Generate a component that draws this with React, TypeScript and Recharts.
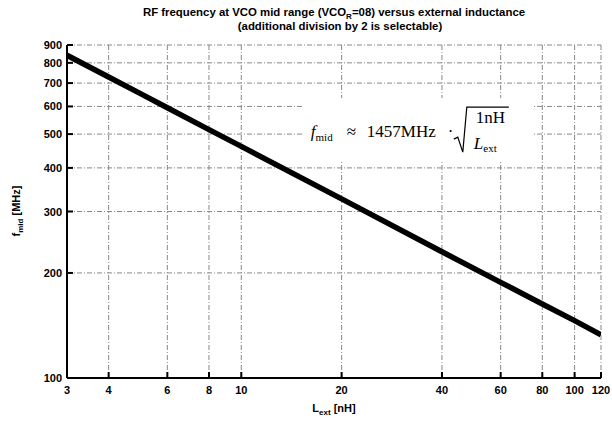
import React from 'react';
import {
  LineChart, Line, XAxis, YAxis, CartesianGrid, ReferenceArea,
} from 'recharts';

// readings taken off the reference plot
const inductances = [3, 4, 5, 6, 8, 10, 20, 40, 60, 80, 100, 120];
const fMid = [841, 729, 652, 595, 515, 461, 326, 230, 188, 163, 146, 133];

const xTicks = [3, 4, 6, 8, 10, 20, 40, 60, 80, 100, 120];
const yTicks = [100, 200, 300, 400, 500, 600, 700, 800, 900];

// box behind the formula, in data units
const boxL = [15.4, 75.5];
const boxF = [416, 634];

const W = 612;
const H = 421;
const SANS = '"Liberation Sans", Arial, sans-serif';
const SERIF = '"Liberation Serif", "DejaVu Serif", serif';

const data = inductances.map((L, i) => ({ L, f: fMid[i] }));

const label = { fontFamily: SANS, fontSize: 11, fontWeight: 700, fill: '#000' };

function BottomTick({ x, y, payload }: any) {
  return (
    <g>
      <line x1={x} x2={x} y1={y} y2={y - 6} stroke="#000" strokeWidth={2} />
      <text x={x} y={y + 16} textAnchor="middle" style={label}>{payload.value}</text>
    </g>
  );
}

function TopTick({ x, y }: any) {
  return <line x1={x} x2={x} y1={y} y2={y + 6} stroke="#000" strokeWidth={2} />;
}

function LeftTick({ x, y, payload }: any) {
  return (
    <g>
      <line x1={x} x2={x + 6} y1={y} y2={y} stroke="#000" strokeWidth={2} />
      <text x={x - 5} y={y + 4} textAnchor="end" style={label}>{payload.value}</text>
    </g>
  );
}

function RightTick({ x, y }: any) {
  return <line x1={x} x2={x - 6} y1={y} y2={y} stroke="#000" strokeWidth={2} />;
}

function FormulaBox({ x, y, width, height }: any) {
  const bx = x + 7;
  const by = y + 39;
  return (
    <g>
      <rect x={x} y={y} width={width} height={height} fill="#fff" />
      <text x={bx} y={by} style={{ fontFamily: SERIF, fontSize: 17 }}>
        <tspan fontStyle="italic">f</tspan>
        <tspan fontSize={11} dy={4}>mid</tspan>
      </text>
      <text x={bx + 36} y={by} style={{ fontFamily: SERIF, fontSize: 17 }}>≈</text>
      <text x={bx + 56} y={by} style={{ fontFamily: SERIF, fontSize: 17 }}>1457MHz</text>
      <text x={bx + 137} y={by} style={{ fontFamily: SERIF, fontSize: 17 }}>·</text>
      <path
        d={`M ${bx + 143} ${by + 2} L ${bx + 147} ${by} L ${bx + 152} ${by + 15} L ${bx + 156} ${by - 30} L ${bx + 198} ${by - 30}`}
        fill="none" stroke="#000" strokeWidth={1.2}
      />
      <text x={bx + 165} y={by - 14} style={{ fontFamily: SERIF, fontSize: 17 }}>1nH</text>
      <text x={bx + 163} y={by + 12} style={{ fontFamily: SERIF, fontSize: 17 }}>
        <tspan fontStyle="italic">L</tspan>
        <tspan fontSize={11} dy={3}>ext</tspan>
      </text>
    </g>
  );
}

export default function App() {
  return (
    <div style={{ position: 'absolute', left: 0, top: 0, width: W, height: H, background: '#fff' }}>
      <LineChart width={W} height={H} data={data} margin={{ top: 45, right: 11, bottom: 0, left: 0 }}>
        <CartesianGrid stroke="#888" strokeDasharray="5 2 1 2" strokeWidth={1} />
        <XAxis
          dataKey="L" type="number" scale="log" domain={[3, 120]} ticks={xTicks}
          allowDataOverflow height={43} tickSize={0} tickMargin={0} interval={0}
          axisLine={{ stroke: '#000', strokeWidth: 2 }} tick={<BottomTick />}
        />
        <XAxis
          xAxisId="top" orientation="top" dataKey="L" type="number" scale="log" domain={[3, 120]}
          ticks={xTicks} allowDataOverflow height={0} tickSize={0} tickMargin={0} interval={0}
          axisLine={{ stroke: '#000', strokeWidth: 2 }} tick={<TopTick />}
        />
        <YAxis
          type="number" scale="log" domain={[100, 900]} ticks={yTicks} allowDataOverflow
          width={67} tickSize={0} tickMargin={0} interval={0}
          axisLine={{ stroke: '#000', strokeWidth: 2 }} tick={<LeftTick />}
        />
        <YAxis
          yAxisId="right" orientation="right" type="number" scale="log" domain={[100, 900]}
          ticks={yTicks} allowDataOverflow width={0} tickSize={0} tickMargin={0} interval={0}
          axisLine={{ stroke: '#000', strokeWidth: 2 }} tick={<RightTick />}
        />
        <ReferenceArea
          x1={boxL[0]} x2={boxL[1]} y1={boxF[0]} y2={boxF[1]}
          fill="#fff" fillOpacity={1} stroke="none" shape={<FormulaBox />}
        />
        <Line
          dataKey="f" type="linear" stroke="#000" strokeWidth={5.5} dot={false}
          isAnimationActive={false}
        />
      </LineChart>
      <svg width={W} height={H} style={{ position: 'absolute', left: 0, top: 0, pointerEvents: 'none' }}>
        <text x={334} y={16} textAnchor="middle" style={{ ...label, fontSize: 11.4 }}>
          RF frequency at VCO mid range (VCO<tspan fontSize={8} dy={3}>R</tspan>
          <tspan dy={-3}>=08) versus external inductance</tspan>
        </text>
        <text x={340} y={30} textAnchor="middle" style={{ ...label, fontSize: 11.4 }}>
          (additional division by 2 is selectable)
        </text>
        <text x={334} y={412} textAnchor="middle" style={label}>
          L<tspan fontSize={8} dy={3}>ext</tspan><tspan dy={-3}> [nH]</tspan>
        </text>
        <text x={20} y={211} textAnchor="middle" transform="rotate(-90 20 211)" style={label}>
          f<tspan fontSize={8} dy={3}>mid</tspan><tspan dy={-3}> [MHz]</tspan>
        </text>
      </svg>
    </div>
  );
}
